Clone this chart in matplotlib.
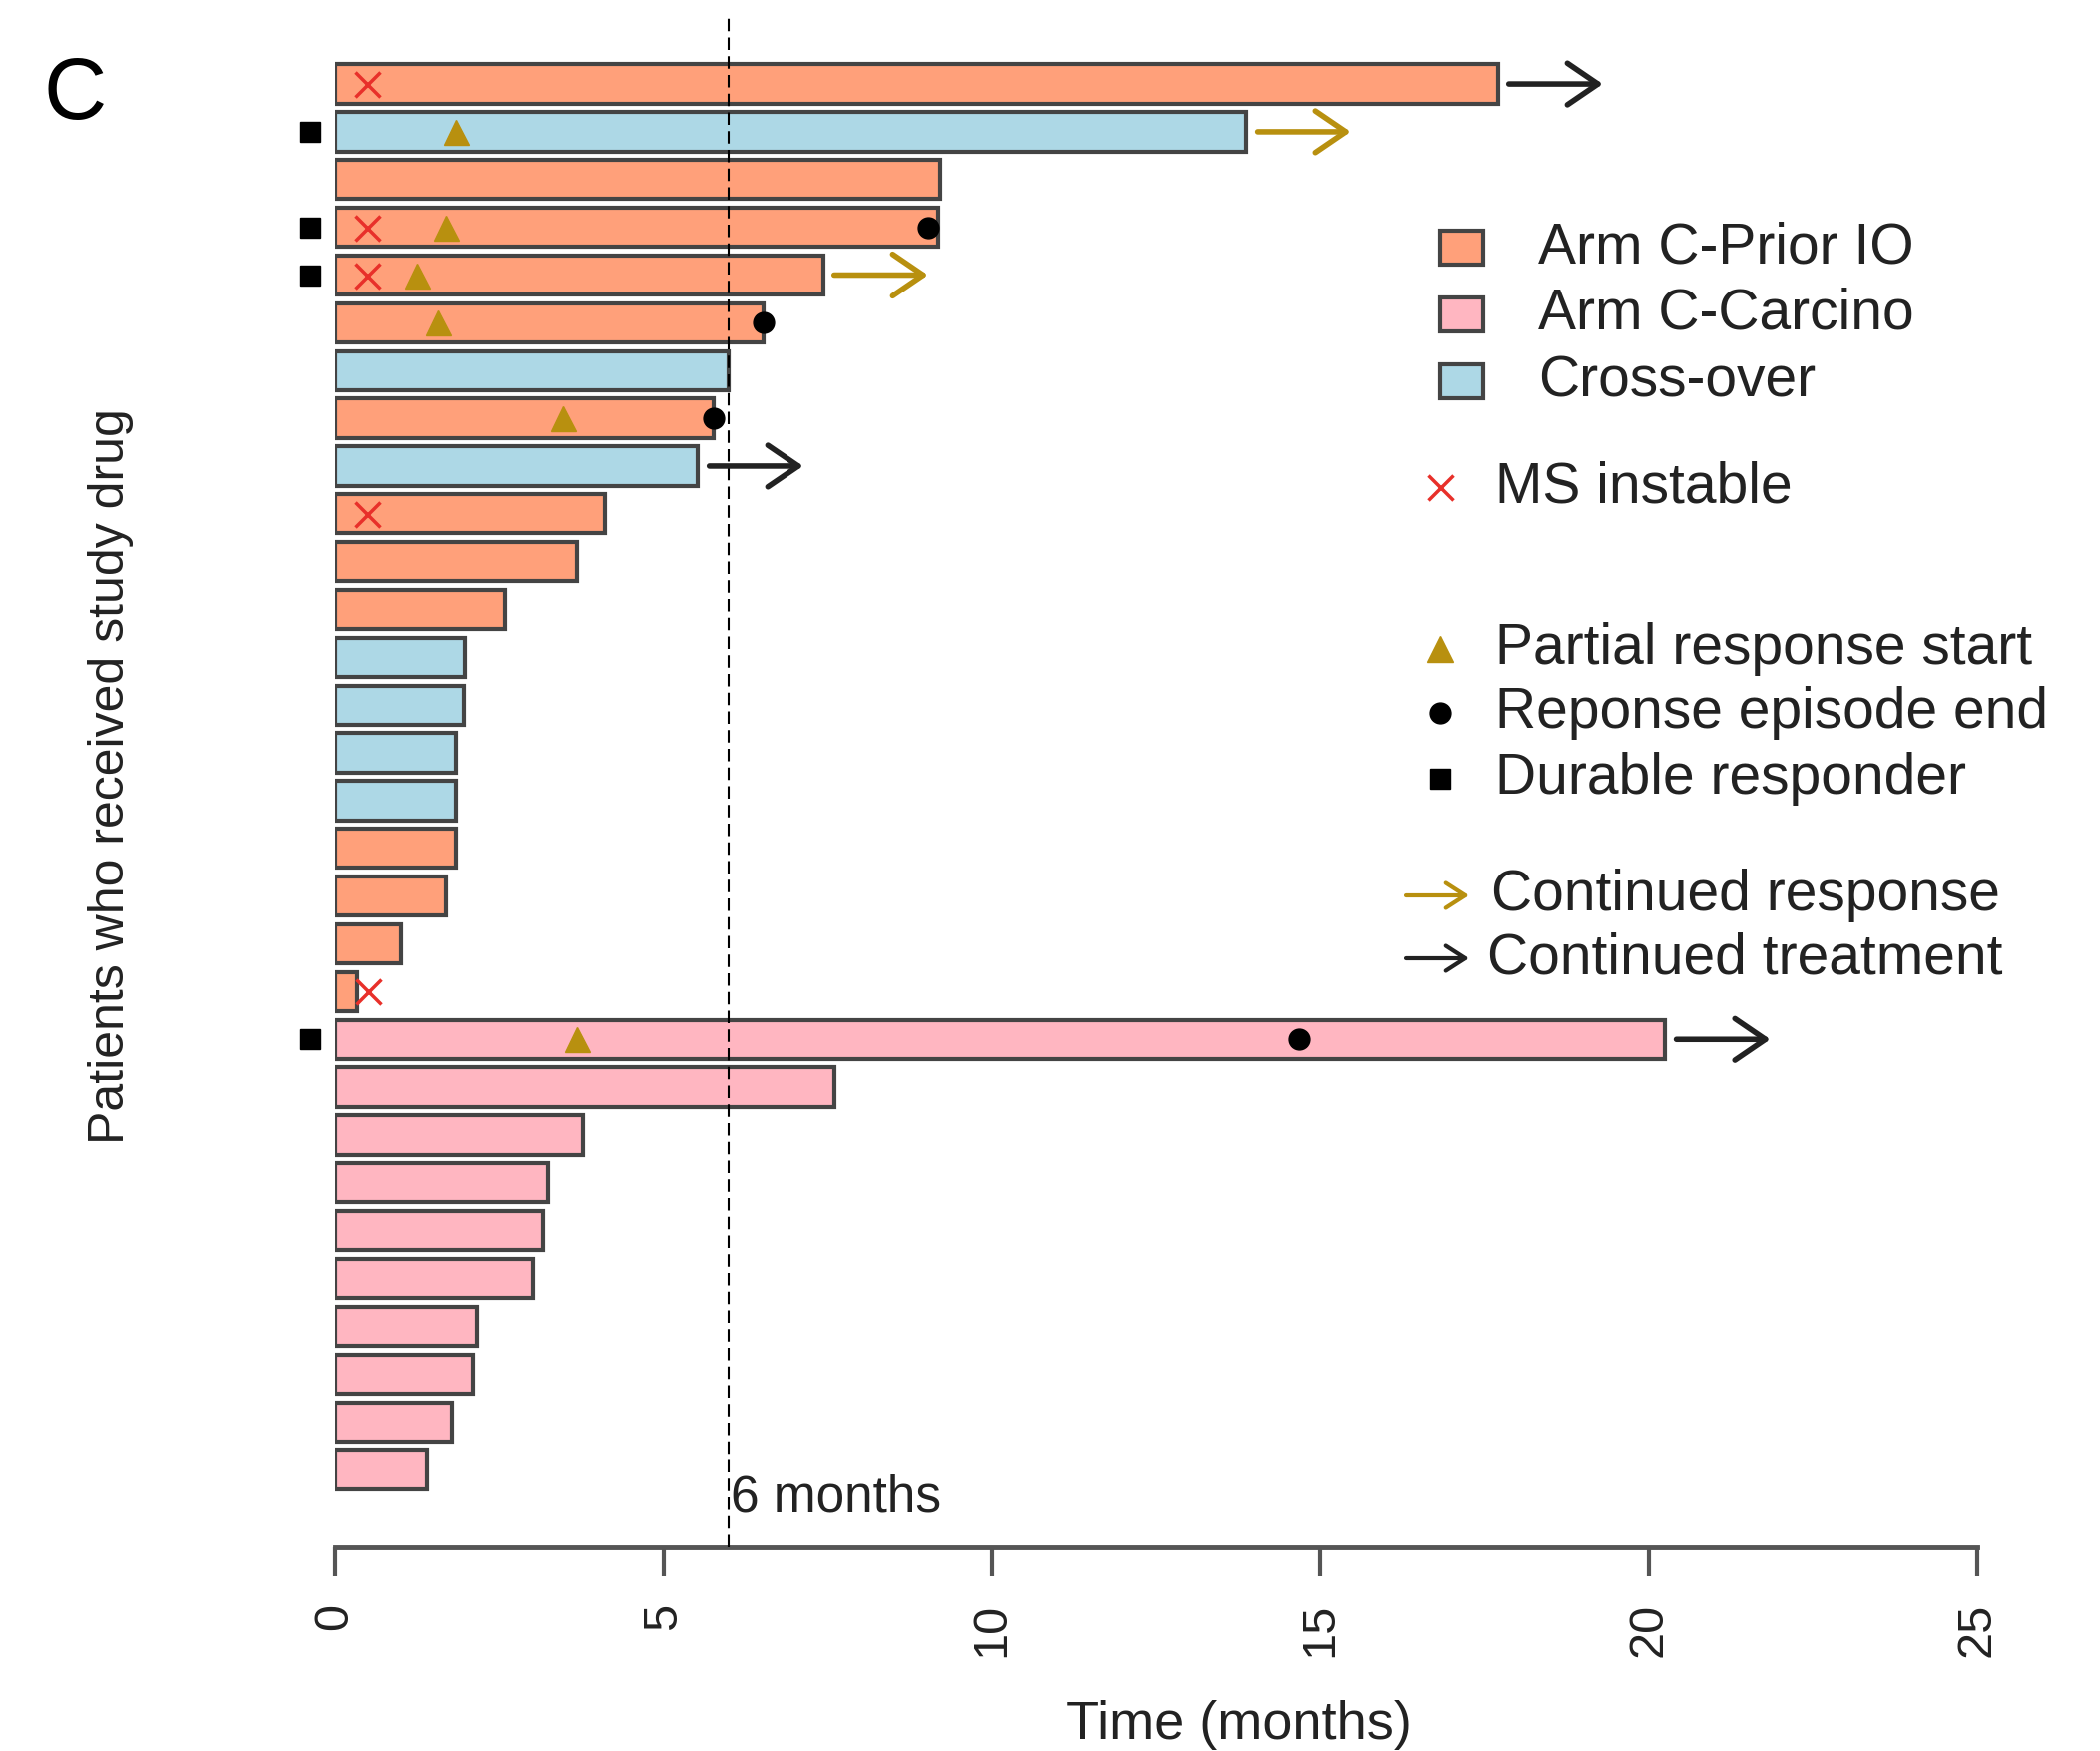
import matplotlib
matplotlib.use("Agg")
import matplotlib.pyplot as plt
from matplotlib.patches import Rectangle, FancyArrowPatch
from matplotlib.lines import Line2D

plt.rcParams['font.family'] = ['Liberation Sans', 'DejaVu Sans']

# data: one row per patient, top to bottom
months = [17.70, 13.87, 9.22, 9.19, 7.43, 6.52, 6.00, 5.76, 5.53, 4.11,
          3.68, 2.59, 1.98, 1.97, 1.85, 1.85, 1.85, 1.70, 1.01, 0.34,
          20.25, 7.61, 3.78, 3.24, 3.17, 3.01, 2.16, 2.10, 1.79, 1.40]
arm = ['prior', 'cross', 'prior', 'prior', 'prior', 'prior', 'cross', 'prior', 'cross', 'prior',
       'prior', 'prior', 'cross', 'cross', 'cross', 'cross', 'prior', 'prior', 'prior', 'prior',
       'carcino', 'carcino', 'carcino', 'carcino', 'carcino', 'carcino', 'carcino', 'carcino', 'carcino', 'carcino']

ms_rows = [0, 3, 4, 9, 19]
ms_time = [0.5, 0.5, 0.5, 0.5, 0.51]
pr_rows = [1, 3, 4, 5, 7, 20]
pr_time = [1.84, 1.69, 1.26, 1.57, 3.47, 3.69]
end_rows = [3, 5, 7, 20]
end_time = [9.03, 6.52, 5.76, 14.67]
durable_rows = [1, 3, 4, 20]
cont_resp_rows = [1, 4]
cont_treat_rows = [0, 8, 20]

xticks = [0, 5, 10, 15, 20, 25]

fill = {'prior': '#FFA07A', 'carcino': '#FFB6C1', 'cross': '#ADD8E6'}
edge = '#444444'
gold = '#B8900F'
red = '#E8302A'

W, H = 2104, 1754
fig = plt.figure(figsize=(W / 100, H / 100), dpi=100)
ax = fig.add_axes([335.5 / W, (H - 1550) / H, (1981 - 335.5) / W, (1550 - 13) / H])

def fx(px):
    return px / W

def fy(py):
    return 1 - py / H

rows = list(range(len(months)))
ax.barh(rows, months, height=0.82, color=[fill[a] for a in arm],
        edgecolor=edge, linewidth=3, zorder=2)

ax.axvline(6, color='black', lw=1.5, linestyle=(0, (6, 3)), zorder=3)
ax.text(6.02, 29.6, '6 months', fontsize=37, ha='left', va='center', color='#222')

ax.plot(ms_time, ms_rows, 'x', color=red, ms=18, mew=2.5, zorder=4, clip_on=False)
ax.plot(pr_time, pr_rows, '^', color=gold, ms=18, zorder=4)
ax.plot(end_time, end_rows, 'o', color='black', ms=15, zorder=4)
ax.plot([-0.37] * len(durable_rows), durable_rows, 's', color='black', ms=14,
        zorder=4, clip_on=False)

arrow_style = '->,head_length=2.2,head_width=1.5'
for r in cont_resp_rows:
    ax.annotate('', xy=(months[r] + 1.6, r), xytext=(months[r] + 0.17, r),
                arrowprops=dict(arrowstyle=arrow_style, color=gold, lw=4,
                                shrinkA=0, shrinkB=0, mutation_scale=10))
for r in cont_treat_rows:
    ax.annotate('', xy=(months[r] + 1.6, r), xytext=(months[r] + 0.17, r),
                arrowprops=dict(arrowstyle=arrow_style, color='#222222', lw=4,
                                shrinkA=0, shrinkB=0, mutation_scale=10))

ax.set_xlim(0, 25)
ax.set_ylim(29 + 1.63, -1.485)
for s in ['top', 'right', 'left']:
    ax.spines[s].set_visible(False)
ax.spines['bottom'].set_bounds(0, 25)
ax.spines['bottom'].set_color('#555555')
ax.spines['bottom'].set_linewidth(3.5)
ax.set_yticks([])
ax.set_xticks(xticks)
ax.set_xticklabels([str(t) for t in xticks])
ax.tick_params(axis='x', labelsize=35, rotation=90, length=21, width=3,
               color='#555555', pad=19, labelcolor='#222')

fig.text(fx(1241), fy(1728), 'Time (months)', fontsize=39, ha='center', va='center', color='#222')
fig.text(fx(111), fy(778), 'Patients who received study drug', fontsize=36,
         rotation=90, ha='center', va='center', color='#222')
fig.text(fx(75), fy(97), 'C', fontsize=63, ha='center', va='center')

# legend, drawn by hand to keep the uneven gaps
legend_fs = 41
box_labels = ['Arm C-Prior IO', 'Arm C-Carcino', 'Cross-over']
box_keys = ['prior', 'carcino', 'cross']
box_y = [248, 315, 382]
for lab, key, y in zip(box_labels, box_keys, box_y):
    fig.add_artist(Rectangle((fx(1443), fy(y + 17)), 43 / W, 34 / H,
                             transform=fig.transFigure, facecolor=fill[key],
                             edgecolor=edge, linewidth=3))
    fig.text(fx(1541), fy(y), lab, fontsize=legend_fs, ha='left', va='center', color='#222')

mark_labels = ['MS instable', 'Partial response start', 'Reponse episode end', 'Durable responder']
mark_y = [488, 650, 714, 780]
mark_style = [dict(marker='x', color=red, ms=18, mew=2.5),
              dict(marker='^', color=gold, ms=19),
              dict(marker='o', color='black', ms=15),
              dict(marker='s', color='black', ms=14)]
for lab, y, st in zip(mark_labels, mark_y, mark_style):
    fig.add_artist(Line2D([fx(1443)], [fy(y)], transform=fig.transFigure,
                          linestyle='none', **st))
    fig.text(fx(1498), fy(y), lab, fontsize=legend_fs, ha='left', va='center', color='#222')

arr_labels = ['Continued response', 'Continued treatment']
arr_colors = [gold, '#222222']
arr_y = [897, 960]
arr_text_x = [1494, 1490]
for lab, c, y, tx in zip(arr_labels, arr_colors, arr_y, arr_text_x):
    fig.add_artist(FancyArrowPatch(
        (fx(1409), fy(y)), (fx(1472), fy(y)), transform=fig.transFigure,
        arrowstyle='->,head_length=1.4,head_width=0.9', color=c, lw=3,
        mutation_scale=10, shrinkA=0, shrinkB=0))
    fig.text(fx(tx), fy(y), lab, fontsize=legend_fs, ha='left', va='center', color='#222')

fig.savefig('out.png', dpi=100)
